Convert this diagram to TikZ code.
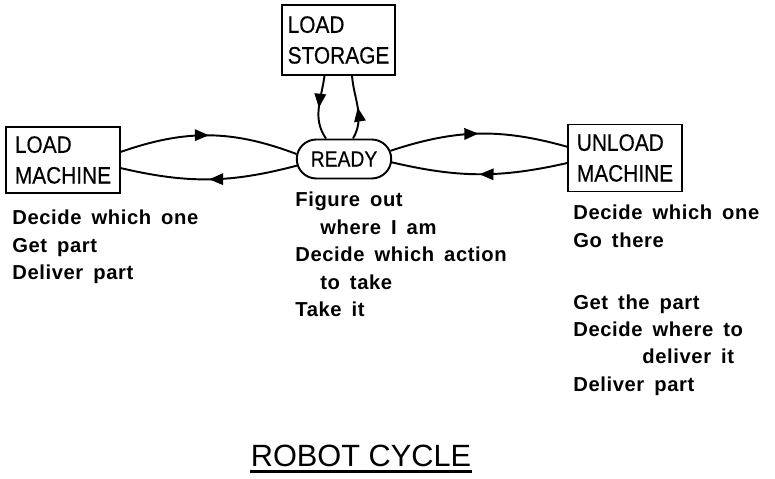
\documentclass[tikz,border=0pt]{standalone}
\usepackage{fontspec}
\setmainfont{Liberation Sans}
\newfontfamily\boxfont[FakeStretch=0.88,FakeBold=0.4]{Liberation Sans}
\newfontfamily\notefont[LetterSpace=3,WordSpace=1.6]{Liberation Sans}
\usetikzlibrary{arrows.meta,shapes.misc,decorations.markings}
\tikzset{
  stbox/.style={draw, line width=1.1pt, align=left, inner sep=2pt, font={\fontsize{13.5}{17.5}\selectfont\boxfont}},
  readybox/.style={draw, rounded rectangle, line width=1.1pt, minimum width=1.96cm, minimum height=0.78cm, inner sep=1pt, font={\fontsize{12.5}{14}\selectfont\boxfont}},
  notes/.style={anchor=north west, inner sep=0pt, align=left, font={\fontsize{11.5}{15.6}\selectfont\notefont\bfseries}},
  heading/.style={anchor=base, inner sep=0pt, font=\fontsize{17.5}{20}\selectfont},
  flow/.style={line width=1.1pt, postaction={decorate},
    decoration={markings, mark=at position 0.5 with {\arrow{Triangle[length=8pt,width=6.5pt]}}}}
}
\begin{document}
\begin{tikzpicture}[x=0.02cm, y=0.02cm]
\useasboundingbox (0,0) rectangle (775,479);
% states
\node[stbox, minimum width=2.26cm, minimum height=1.4cm] (store) at (338.5,439) {LOAD\\STORAGE};
\node[stbox, minimum width=2.28cm, minimum height=1.32cm] (loadm) at (63,319) {LOAD\\MACHINE};
\node[stbox, minimum width=2.28cm, minimum height=1.34cm] (unloadm) at (625,321) {UNLOAD\\MACHINE};
\node[readybox] (ready) at (344,320) {READY};
% transitions
\draw[flow] (loadm.8) to[bend left=20] (ready.174);
\draw[flow] (ready.188) to[bend left=14] (loadm.352);
\draw[flow] (ready.10) to[bend left=17] (unloadm.169);
\draw[flow] (unloadm.185) to[bend left=13] (ready.356);
\draw[flow] ([xshift=-0.28cm]store.south) to[out=262,in=125] ([xshift=-0.36cm]ready.north);
\draw[flow] ([xshift=0.18cm]ready.north) to[out=60,in=-85] ([xshift=0.27cm]store.south);
% what each state does
\node[notes] (loadtxt) at (12,269) {Decide which one\\Get part\\Deliver part};
\node[notes] (readytxt) at (295,287) {Figure out\\\hspace*{0.5cm}where I am\\Decide which action\\\hspace*{0.5cm}to take\\Take it};
\node[notes] (unloadtxt) at (573,274) {Decide which one\\Go there\\[19.5pt]Get the part\\Decide where to\\\hspace*{1.38cm}deliver it\\Deliver part};
% caption
\node[heading] (title) at (361,12) {ROBOT CYCLE};
\draw[line width=1.4pt] ([yshift=-2.5pt]title.base west) -- ([yshift=-2.5pt]title.base east);
\end{tikzpicture}
\end{document}
